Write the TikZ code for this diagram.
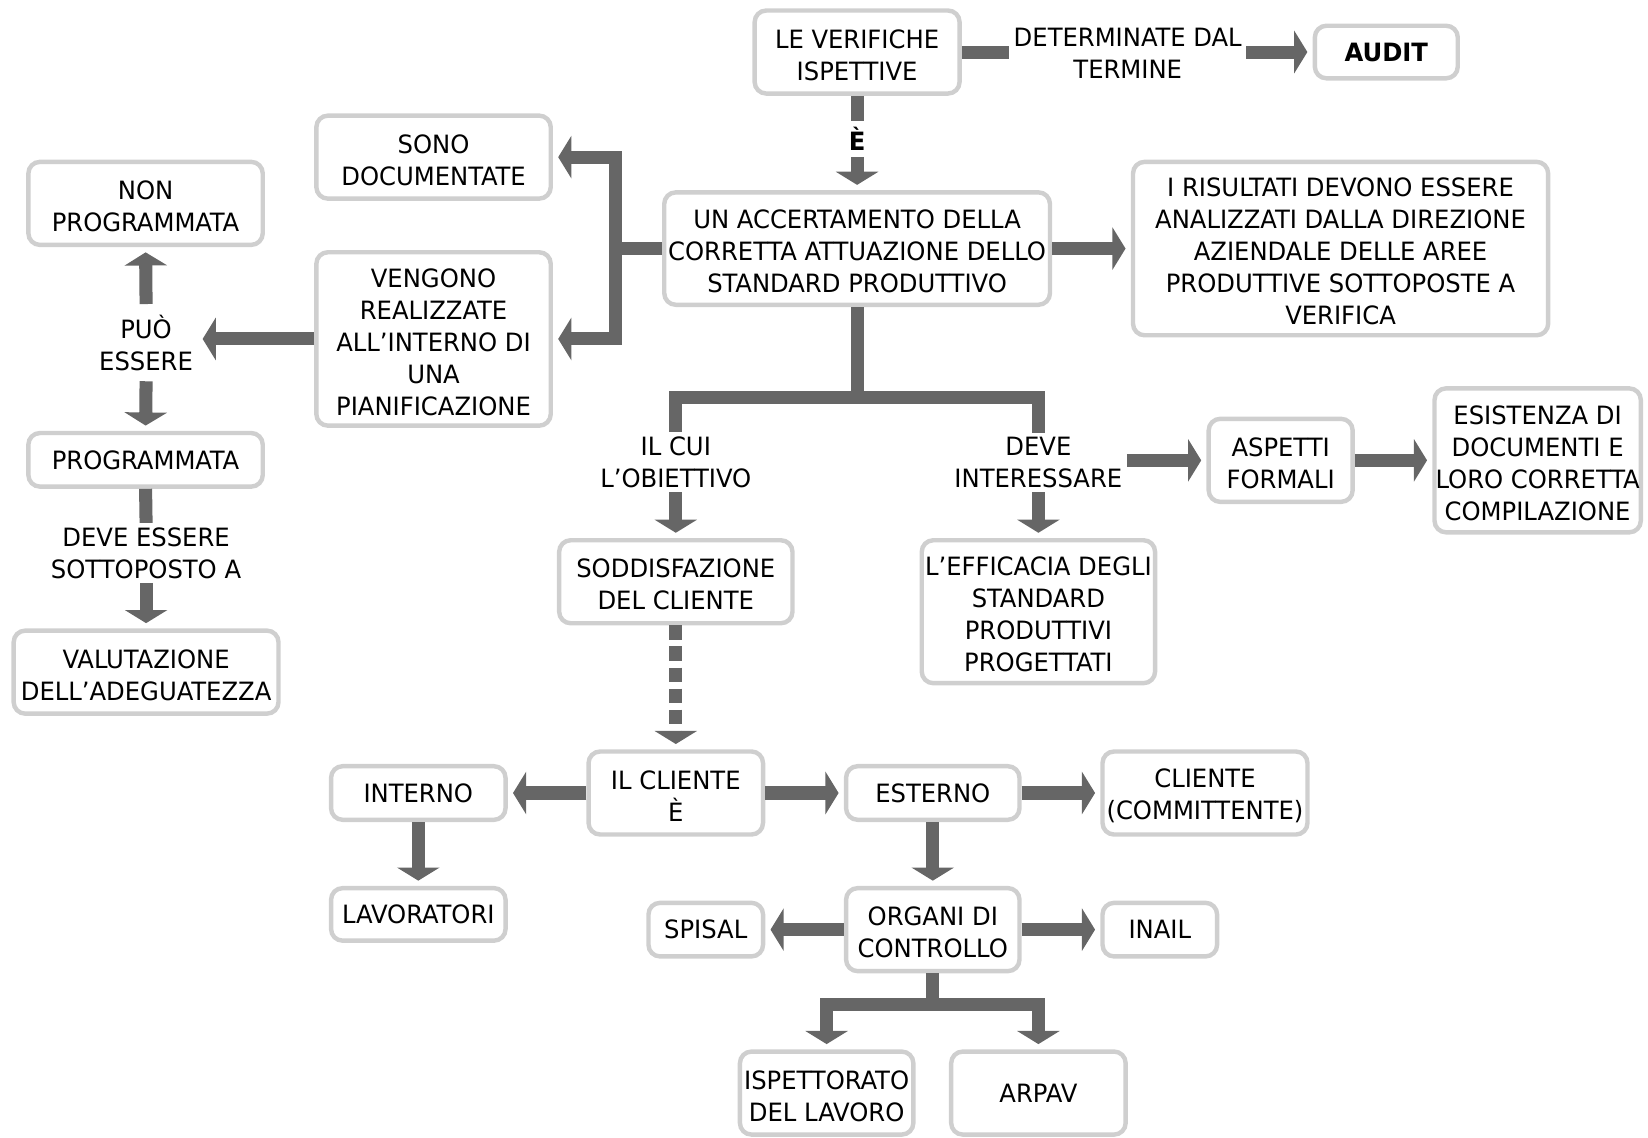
\documentclass[tikz,border=0pt]{standalone}
\usepackage{fontspec}
\setmainfont{DejaVu Sans Condensed}[FakeStretch=1.07]
\usetikzlibrary{arrows.meta}
\definecolor{boxgray}{HTML}{CFCFCF}
\definecolor{arrgray}{HTML}{666666}
\newcommand\fl{\rule{0pt}{23.5pt}}
\tikzset{
  box/.style={draw=boxgray, line width=4.2pt, rounded corners=11pt, fill=white,
    align=center, inner xsep=1pt, inner ysep=2pt, font=\fontsize{24}{30.5}\selectfont},
  lbl/.style={align=center, inner xsep=4pt, inner ysep=4pt, font=\fontsize{24}{30.5}\selectfont},
  conn/.style={draw=arrgray, line width=12.4pt, line join=miter},
  arr/.style={conn, -{Triangle[width=40pt,length=12.5pt]}, shorten >=5pt},
}
\begin{document}
\begin{tikzpicture}[x=1pt,y=-1pt]
\useasboundingbox (0,0) rectangle (1568,1082);
% boxes
\node[box, minimum width=195pt, minimum height=79pt] (verif) at (815.5,49.5) {\fl LE VERIFICHE\\ISPETTIVE};
\node[lbl] (det) at (1073,50.5) {DETERMINATE DAL\\TERMINE};
\node[box, minimum width=136pt, minimum height=50pt] (audit) at (1319,49.5) {\bfseries AUDIT};
\node[lbl, inner ysep=6pt] (E) at (815.5,132) {\bfseries È};
\node[box, minimum width=223pt, minimum height=79pt] (sono) at (412.5,149.5) {\fl SONO\\DOCUMENTATE};
\node[box, minimum width=367pt, minimum height=107pt] (accert) at (815.5,236.5) {\fl UN ACCERTAMENTO DELLA\\CORRETTA ATTUAZIONE DELLO\\STANDARD PRODUTTIVO};
\node[box, minimum width=395pt, minimum height=165pt] (risult) at (1275.5,236.5) {\fl I RISULTATI DEVONO ESSERE\\ANALIZZATI DALLA DIREZIONE\\AZIENDALE DELLE AREE\\PRODUTTIVE SOTTOPOSTE A\\VERIFICA};
\node[box, minimum width=223pt, minimum height=79pt] (nonp) at (138.5,193.5) {\fl NON\\PROGRAMMATA};
\node[box, minimum width=223pt, minimum height=165pt] (veng) at (412.5,322.5) {\fl VENGONO\\REALIZZATE\\ALL’INTERNO DI\\UNA\\PIANIFICAZIONE};
\node[lbl, inner ysep=10pt] (puo) at (139,326) {PUÒ\\ESSERE};
\node[box, minimum width=223pt, minimum height=51pt] (progr) at (138.5,437.5) {PROGRAMMATA};
\node[lbl] (deve) at (139,526) {DEVE ESSERE\\SOTTOPOSTO A};
\node[box, minimum width=252pt, minimum height=79pt] (valut) at (139,639.5) {\fl VALUTAZIONE\\DELL’ADEGUATEZZA};
\node[lbl] (obiet) at (643,440) {IL CUI\\L’OBIETTIVO};
\node[lbl] (inter) at (988,440) {DEVE\\INTERESSARE};
\node[box, minimum width=137pt, minimum height=79pt] (asp) at (1218.5,438) {\fl ASPETTI\\FORMALI};
\node[box, minimum width=196pt, minimum height=137pt] (esist) at (1463,438) {\fl ESISTENZA DI\\DOCUMENTI E\\LORO CORRETTA\\COMPILAZIONE};
\node[box, minimum width=222pt, minimum height=79pt] (sodd) at (643,553.5) {\fl SODDISFAZIONE\\DEL CLIENTE};
\node[box, minimum width=222pt, minimum height=136pt] (effic) at (988,582) {\fl L’EFFICACIA DEGLI\\STANDARD\\PRODUTTIVI\\PROGETTATI};
\node[box, minimum width=166pt, minimum height=79pt] (clie) at (643,754.5) {\fl IL CLIENTE\\È};
\node[box, minimum width=166pt, minimum height=51pt] (int) at (398,754.5) {INTERNO};
\node[box, minimum width=165pt, minimum height=51pt] (est) at (887.5,754.5) {ESTERNO};
\node[box, minimum width=195pt, minimum height=79pt] (comm) at (1146.5,754.5) {\fl CLIENTE\\(COMMITTENTE)};
\node[box, minimum width=166pt, minimum height=50pt] (lav) at (398,870) {LAVORATORI};
\node[box, minimum width=109pt, minimum height=51pt] (spisal) at (671.5,884.5) {SPISAL};
\node[box, minimum width=165pt, minimum height=79pt] (org) at (887.5,884.5) {\fl ORGANI DI\\CONTROLLO};
\node[box, minimum width=109pt, minimum height=51pt] (inail) at (1103.5,884.5) {INAIL};
\node[box, minimum width=165pt, minimum height=79pt] (isp) at (786.5,1040) {\fl ISPETTORATO\\DEL LAVORO};
\node[box, minimum width=166pt, minimum height=79pt] (arpav) at (988,1040) {ARPAV};
% junctions
\coordinate (J1) at (586,236.5);
\coordinate (J2) at (815.5,378);
\coordinate (J3) at (887.5,956);
% connectors
\draw[conn] (verif.east) -- (verif.east -| det.west);
\draw[arr] (verif.east -| det.east) -- (audit.west);
\draw[conn] (verif.south) -- (E.north);
\draw[arr] (E.south) -- (accert.north);
\draw[conn] (accert.west) -- (J1);
\draw[arr] (J1) |- (sono.east);
\draw[arr] (J1) |- (veng.east);
\draw[arr] (accert.east) -- (risult.west);
\draw[conn] (accert.south) -- (J2);
\draw[conn] (J2) -| (obiet.north);
\draw[conn] (J2) -| (inter.north);
\draw[arr] (obiet.south) -- (sodd.north);
\draw[arr] (inter.south) -- (effic.north);
\draw[arr] (asp.west -| inter.east) -- (asp.west);
\draw[arr] (asp.east) -- (esist.west);
\draw[arr] (veng.west) -- (veng.west -| puo.east);
\draw[arr] (puo.north) -- (nonp.south);
\draw[arr] (puo.south) -- (progr.north);
\draw[conn] (progr.south) -- (deve.north);
\draw[arr] (deve.south) -- (valut.north);
\draw[arr, dash pattern=on 14pt off 6pt] (sodd.south) -- (clie.north);
\draw[arr] (clie.west) -- (int.east);
\draw[arr] (clie.east) -- (est.west);
\draw[arr] (est.east) -- (comm.west);
\draw[arr] (int.south) -- (lav.north);
\draw[arr] (est.south) -- (org.north);
\draw[arr] (org.west) -- (spisal.east);
\draw[arr] (org.east) -- (inail.west);
\draw[conn] (org.south) -- (J3);
\draw[arr] (J3) -| (isp.north);
\draw[arr] (J3) -| (arpav.north);
\end{tikzpicture}
\end{document}
